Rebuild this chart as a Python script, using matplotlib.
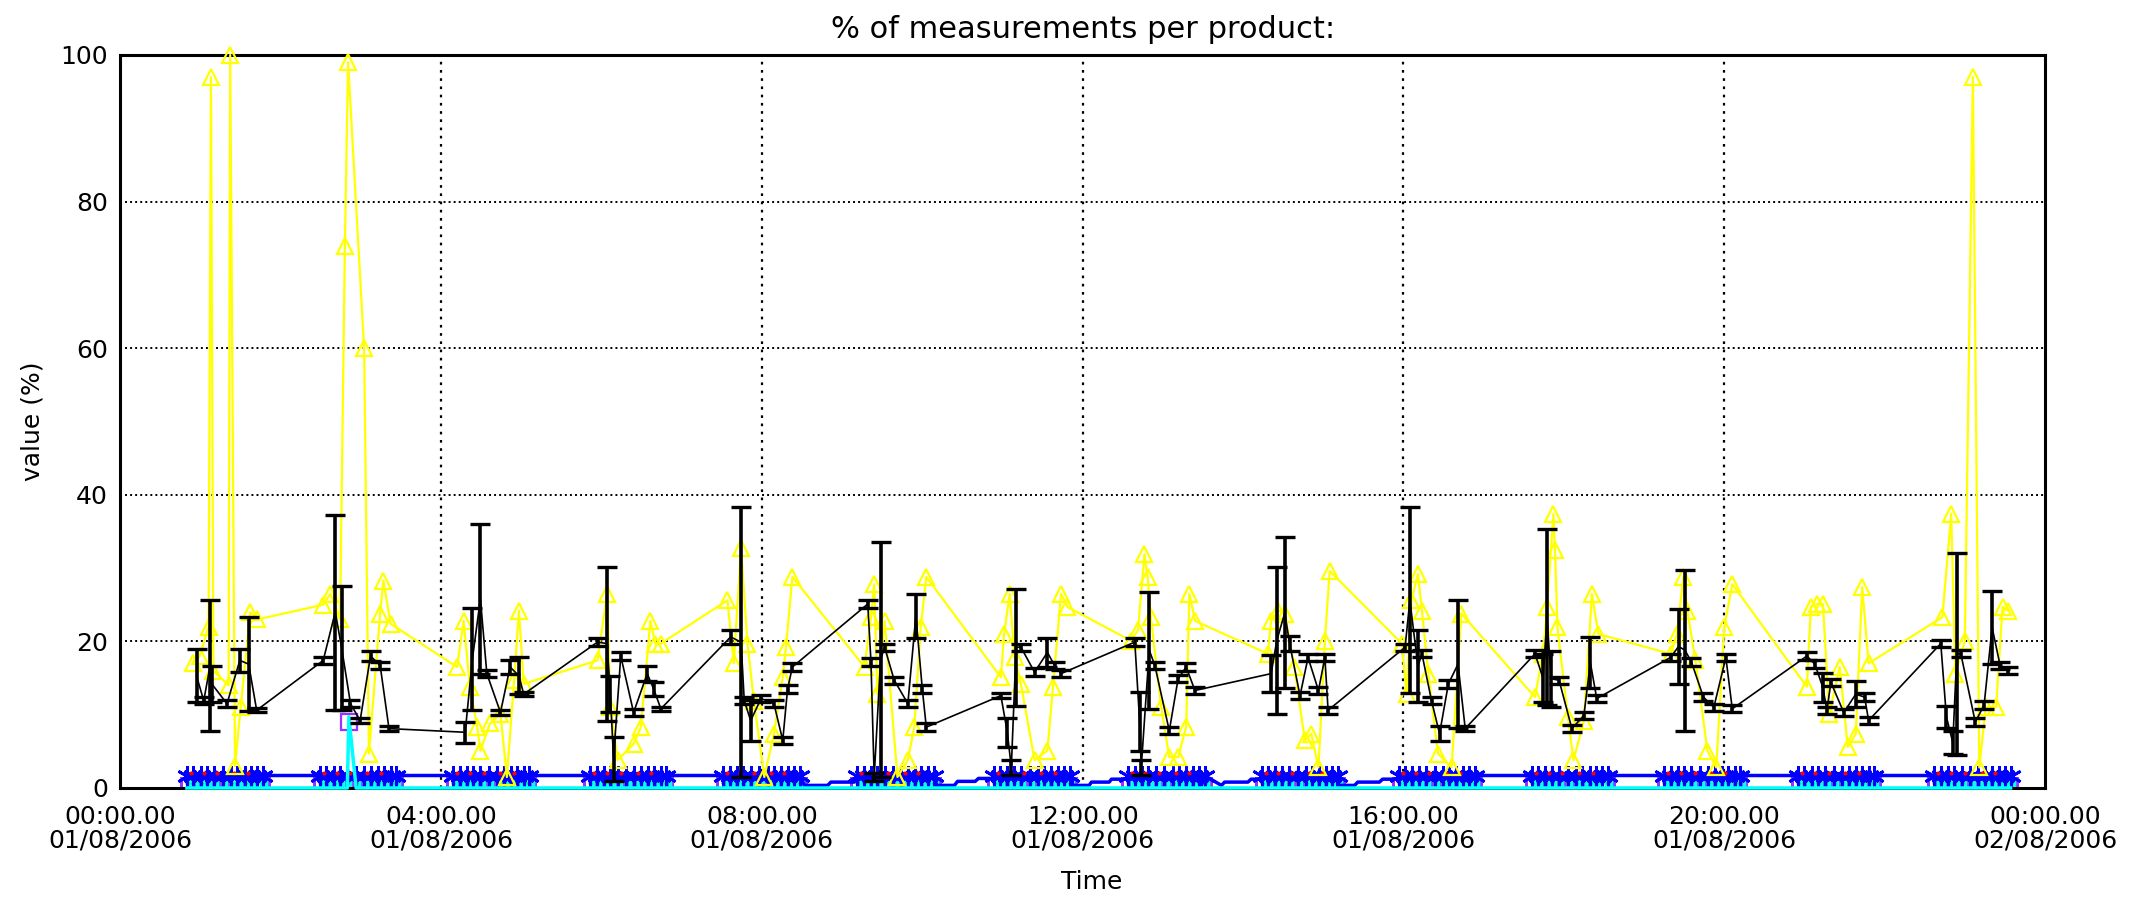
import matplotlib
matplotlib.use("Agg")
import matplotlib.pyplot as plt
import numpy as np

# ---------------- data (hours after 00:00 01/08/2006) ----------------
yellow_t = [
    0.91, 0.99, 1.10, 1.13, 1.16, 1.35, 1.37, 1.43, 1.50, 1.62, 1.71,
    2.53, 2.62, 2.74, 2.80, 2.84, 3.04, 3.10, 3.24, 3.28, 3.37,
    4.20, 4.28, 4.36, 4.45, 4.49, 4.61, 4.74, 4.82, 4.91, 4.97, 5.03,
    5.95, 6.07, 6.11, 6.20, 6.40, 6.49, 6.61, 6.67, 6.74,
    7.57, 7.65, 7.74, 7.82, 7.90, 8.03, 8.15, 8.26, 8.30, 8.38,
    9.28, 9.36, 9.40, 9.44, 9.53, 9.69, 9.82, 9.90, 9.98, 10.05,
    10.98, 11.02, 11.09, 11.15, 11.23, 11.40, 11.56, 11.63, 11.73, 11.81,
    12.60, 12.69, 12.77, 12.81, 12.85, 12.98, 13.08, 13.19, 13.29, 13.33, 13.40,
    14.31, 14.35, 14.44, 14.52, 14.64, 14.77, 14.85, 14.94, 15.02, 15.08,
    15.98, 16.04, 16.10, 16.18, 16.23, 16.31, 16.43, 16.60, 16.72,
    17.64, 17.74, 17.79, 17.87, 17.89, 17.92, 18.05, 18.12, 18.25, 18.35, 18.43,
    19.33, 19.41, 19.49, 19.54, 19.64, 19.79, 19.90, 20.00, 20.10,
    21.03, 21.08, 21.16, 21.23, 21.31, 21.44, 21.54, 21.64, 21.72, 21.80,
    22.72, 22.83, 22.88, 23.00, 23.10, 23.18, 23.26, 23.39, 23.47, 23.54]
yellow_v = [
    17, 18, 22, 97, 16, 14, 100, 3, 11, 24, 23,
    25, 26.5, 23, 74, 99, 60, 4.7, 23.8, 28.3, 22.4,
    16.5, 22.8, 13.8, 8.3, 5.1, 8.8, 10.1, 1.5, 14.7, 24.2, 14.2,
    17.4, 26.5, 11, 3.8, 6, 8.3, 22.8, 19.7, 19.7,
    25.6, 17, 32.8, 19.7, 11.9, 1.5, 7.4, 15.1, 19.2, 28.8,
    16.5, 23.3, 27.8, 12.8, 22.8, 1.5, 3.8, 8.3, 21.9, 28.8,
    15.1, 21, 26.5, 17.8, 14.2, 3.8, 5.1, 13.8, 26.5, 24.7,
    20.1, 21.5, 31.9, 28.8, 23.3, 11, 4.2, 4.2, 8.3, 26.5, 22.8,
    18.3, 22.8, 24.2, 23.8, 16.5, 6.5, 7.4, 2.8, 20.1, 29.6,
    19.7, 12.8, 25.6, 29.2, 24.2, 15.6, 4.7, 2.8, 23.8,
    12.4, 18.3, 24.7, 37.4, 32.4, 21.9, 9.7, 3.8, 9.2, 26.5, 21,
    18.3, 21, 28.8, 24.2, 17.4, 5.1, 2.8, 21.9, 27.8,
    13.8, 24.7, 25.1, 25.1, 10.1, 16.5, 5.6, 7.4, 27.4, 17,
    23.3, 37.4, 15.6, 20, 97, 2.8, 11, 11, 24.7, 24.2]

black_t = [
    0.95, 1.04, 1.12, 1.14, 1.33, 1.49, 1.60, 1.70,
    2.53, 2.68, 2.76, 2.87, 2.99, 3.12, 3.24, 3.35,
    4.30, 4.39, 4.49, 4.57, 4.74, 4.86, 4.97, 5.03,
    5.95, 6.07, 6.11, 6.15, 6.24, 6.40, 6.57, 6.65, 6.74,
    7.61, 7.74, 7.78, 7.86, 7.99, 8.15, 8.26, 8.32, 8.38,
    9.32, 9.36, 9.40, 9.48, 9.53, 9.65, 9.82, 9.92, 10.00, 10.05,
    10.98, 11.06, 11.11, 11.17, 11.23, 11.40, 11.56, 11.65, 11.73,
    12.65, 12.71, 12.73, 12.83, 12.90, 13.08, 13.19, 13.29, 13.40,
    14.35, 14.42, 14.52, 14.58, 14.71, 14.81, 14.94, 15.02, 15.06,
    16.02, 16.08, 16.18, 16.23, 16.35, 16.45, 16.56, 16.68, 16.77,
    17.64, 17.74, 17.79, 17.84, 17.94, 18.10, 18.25, 18.33, 18.41,
    19.33, 19.43, 19.51, 19.59, 19.74, 19.87, 20.02, 20.10,
    21.03, 21.13, 21.23, 21.28, 21.33, 21.49, 21.64, 21.75, 21.80,
    22.70, 22.77, 22.85, 22.90, 22.95, 23.13, 23.24, 23.34, 23.44, 23.54]
black_v = [
    15.3, 11.9, 16.7, 14.2, 11.5, 17.4, 16.9, 10.6,
    17.4, 24, 19.1, 11.5, 9.2, 18, 16.7, 8.1,
    7.6, 17.6, 25.8, 15.6, 10.3, 16.5, 15.3, 12.8,
    19.9, 19.7, 12.8, 4, 18, 10.3, 15.6, 13.5, 10.8,
    20.6, 19.9, 11.9, 9.2, 12.2, 11.5, 6.5, 13.5, 16.5,
    25.1, 17.2, 1.5, 17.5, 19.2, 14.7, 11.5, 23.5, 13.5, 8.3,
    12.6, 7.6, 2.8, 19.2, 19.2, 15.8, 18.5, 16.7, 15.6,
    19.9, 9.1, 2.8, 18.8, 16.7, 7.8, 14.9, 16.5, 13.3,
    15.6, 20.1, 23.9, 19.7, 12.6, 17.8, 13.3, 17.8, 10.6,
    19.2, 25.6, 16.6, 18.3, 11.9, 7.4, 14.2, 16.9, 8.1,
    18.3, 15, 23.3, 14.9, 14.7, 8.1, 9.9, 17.1, 12.2,
    17.8, 19.3, 18.8, 17.2, 12.4, 11, 17.8, 10.8,
    18, 16.9, 13.7, 10.6, 14.4, 10.3, 12.8, 12.4, 9.2,
    19.7, 9.7, 6.2, 18.3, 18.3, 9, 11.3, 21.9, 16.7, 16]
black_err = [
    3.6, 0.5, 8.9, 2.5, 0.5, 1.6, 6.4, 0.3,
    0.5, 13.3, 8.5, 0.5, 0.3, 0.7, 0.5, 0.3,
    1.4, 7, 10.2, 0.5, 0.3, 1.0, 2.5, 0.3,
    0.5, 10.5, 2.5, 3, 0.5, 0.5, 1, 1, 0.3,
    1, 18.4, 0.5, 2.8, 0.5, 0.5, 0.5, 0.5, 0.5,
    0.5, 0.5, 0.5, 16, 0.5, 0.5, 0.5, 3, 0.5, 0.5,
    0.3, 2, 1, 8, 0.5, 0.5, 2, 0.5, 0.5,
    0.5, 4, 1, 8, 0.5, 0.5, 0.5, 0.5, 0.5,
    2.5, 10, 10.3, 1, 0.5, 0.5, 0.5, 0.5, 0.5,
    0.5, 12.7, 4.9, 0.5, 0.5, 1, 0.5, 8.7, 0.3,
    0.5, 3.3, 12, 3.8, 0.5, 0.5, 0.5, 3.5, 0.5,
    0.5, 5.1, 11, 0.5, 0.5, 0.5, 0.5, 0.5,
    0.5, 0.5, 2, 0.5, 0.5, 0.5, 1.8, 0.5, 0.5,
    0.5, 1.5, 1.6, 13.8, 0.5, 0.5, 0.5, 5, 0.5, 0.5]

# low-level products, sampled within each pass
cluster_start_h = [0.83, 2.49, 4.15, 5.86, 7.52, 9.19, 10.89, 12.57,
                   14.23, 15.94, 17.60, 19.25, 20.92, 22.62]
sample_offsets_h = [0.0, 0.08, 0.17, 0.25, 0.34, 0.45, 0.55, 0.63, 0.72, 0.80, 0.88, 0.95]
red_offsets_h = [0.05, 0.21, 0.38, 0.59, 0.76]
blue_level = [1.7, 1.7, 1.7, 1.7, 1.7, 1.7, 1.7, 1.7, 1.7, 1.7, 1.7, 1.7, 1.7, 1.7]
red_level = [2.0, 2.0, 2.0, 2.0, 2.0, 2.0, 2.0, 2.0, 2.0, 2.0, 2.0, 2.0, 2.0, 2.0]
magenta_level = [0.6, 0.6, 0.6, 0.6, 0.6, 0.6, 0.6, 0.6, 0.6, 0.6, 0.6, 0.6, 0.6, 0.6]
green_level = [0.7, 0.7, 0.7, 0.7, 0.7, 0.7, 0.7, 0.7, 0.7, 0.7, 0.7, 0.7, 0.7, 0.7]
cyan_level = [0.0, 0.0, 0.0, 0.0, 0.0, 0.0, 0.0, 0.0, 0.0, 0.0, 0.0, 0.0, 0.0, 0.0]
# blue dips between some passes
blue_gap_t = [8.53, 8.82, 8.86, 9.15,
              10.18, 10.40, 10.44, 10.66, 10.70, 10.87,
              11.88, 12.08, 12.11, 12.33, 12.36, 12.55,
              13.48, 13.73, 13.77, 14.06, 14.10, 14.21,
              15.18, 15.39, 15.43, 15.70, 15.74, 15.92]
blue_gap_v = [0.35, 0.35, 0.8, 0.8,
              0.35, 0.35, 0.9, 0.9, 1.3, 1.3,
              0.35, 0.35, 0.8, 0.8, 1.2, 1.2,
              0.35, 0.35, 0.8, 0.8, 1.2, 1.2,
              0.35, 0.35, 0.8, 0.8, 1.2, 1.2]
# spike of cyan / magenta product during the second pass
cyan_spike_t = [2.80, 2.85, 2.97]
cyan_spike_v = [0.0, 9.7, 0.0]
magenta_spike_t = [2.85]
magenta_spike_v = [9.0]

x_ticks_h = [0, 4, 8, 12, 16, 20, 24]
x_tick_labels = ["00:00.00\n01/08/2006", "04:00.00\n01/08/2006", "08:00.00\n01/08/2006",
                 "12:00.00\n01/08/2006", "16:00.00\n01/08/2006", "20:00.00\n01/08/2006",
                 "00:00.00\n02/08/2006"]
y_ticks = [0, 20, 40, 60, 80, 100]

# ---------------- build sample arrays ----------------
samp_t = []
blue_v, mag_v, green_v, cyan_v = [], [], [], []
for i, s in enumerate(cluster_start_h):
    for o in sample_offsets_h:
        samp_t.append(s + o)
        blue_v.append(blue_level[i])
        mag_v.append(magenta_level[i])
        green_v.append(green_level[i])
        cyan_v.append(cyan_level[i])
samp_t = np.array(samp_t)
red_t, red_v = [], []
for i, s in enumerate(cluster_start_h):
    for o in red_offsets_h:
        red_t.append(s + o)
        red_v.append(red_level[i])

bl_t = np.concatenate([samp_t, blue_gap_t])
bl_v = np.concatenate([blue_v, blue_gap_v])
order = np.argsort(bl_t)
bl_t, bl_v = bl_t[order], bl_v[order]

cy_t = np.concatenate([samp_t, cyan_spike_t])
cy_v = np.concatenate([cyan_v, cyan_spike_v])
order = np.argsort(cy_t)
cy_t, cy_v = cy_t[order], cy_v[order]

# ---------------- figure ----------------
fig = plt.figure(figsize=(21.45, 9.10), dpi=100)
ax = fig.add_axes([0.0561, 0.1341, 0.8973, 0.8055])

ax.set_xlim(0, 24)
ax.set_ylim(0, 100)

# grid
for gx in x_ticks_h[1:-1]:
    ax.axvline(gx, color="black", lw=1.6, ls=(0, (1.2, 2.5)), zorder=0.5)
for gy in y_ticks[1:-1]:
    ax.axhline(gy, color="black", lw=1.4, ls=(0, (1, 1.6)), zorder=0.5)

purple = "#9933ff"
# low level products
ax.plot(samp_t, mag_v, ls="none", marker="s", ms=9, mew=2.2, mfc="none", color=purple, zorder=2.0)
ax.plot(samp_t + 0.04, np.array(cyan_v) + 0.6, ls="none", marker="|", ms=9, mew=2.5, color="cyan", zorder=2.05)
ax.plot(samp_t, green_v, ls="none", marker=".", ms=4, color="#00cc00", zorder=2.1)
ax.plot(bl_t, bl_v, color="#0000ff", lw=2.5, zorder=2.1)
ax.plot(samp_t, blue_v, ls="none", marker=(6, 2, 0), ms=15, mew=2.0, color="#0000ff", zorder=2.2)
ax.plot(red_t, red_v, ls="none", marker=".", ms=4, color="red", zorder=2.3)
ax.plot(cy_t, cy_v, color="cyan", lw=2.5, zorder=3, clip_on=False)
ax.plot(magenta_spike_t, magenta_spike_v, ls="none", marker="s", ms=11, mew=1.6, mfc="none",
        color=purple, zorder=2.4)

# yellow product
ax.plot(yellow_t, yellow_v, color="#ffff00", lw=1.6, marker="^", ms=11, mfc="none", mew=1.6,
        zorder=4, clip_on=False)

# black product with error bars
ax.errorbar(black_t, black_v, yerr=black_err, color="black", lw=1.2, elinewidth=2.6,
            capsize=7, capthick=2.4, zorder=5)

# axes styling
for sp in ax.spines.values():
    sp.set_linewidth(2.2)
    sp.set_color("black")
    sp.set_zorder(2.5)

ax.set_xticks(x_ticks_h)
ax.set_xticklabels(x_tick_labels, fontsize=18, linespacing=1.0)
ax.set_yticks(y_ticks)
ax.set_yticklabels([str(v) for v in y_ticks], fontsize=18)
ax.tick_params(axis="both", length=0)
ax.tick_params(axis="x", pad=12)
ax.tick_params(axis="y", pad=9)

ax.set_title("% of measurements per product:", fontsize=22, pad=12)
ax.set_xlabel("Time", fontsize=18)
ax.xaxis.set_label_coords(0.5047, -0.128)
ax.xaxis.label.set_verticalalignment("center")
ax.set_ylabel("value (%)", fontsize=18)
ax.yaxis.set_label_coords(-0.0457, 0.5)
ax.yaxis.label.set_verticalalignment("center")

fig.savefig("out.png", dpi=100, facecolor="white")
